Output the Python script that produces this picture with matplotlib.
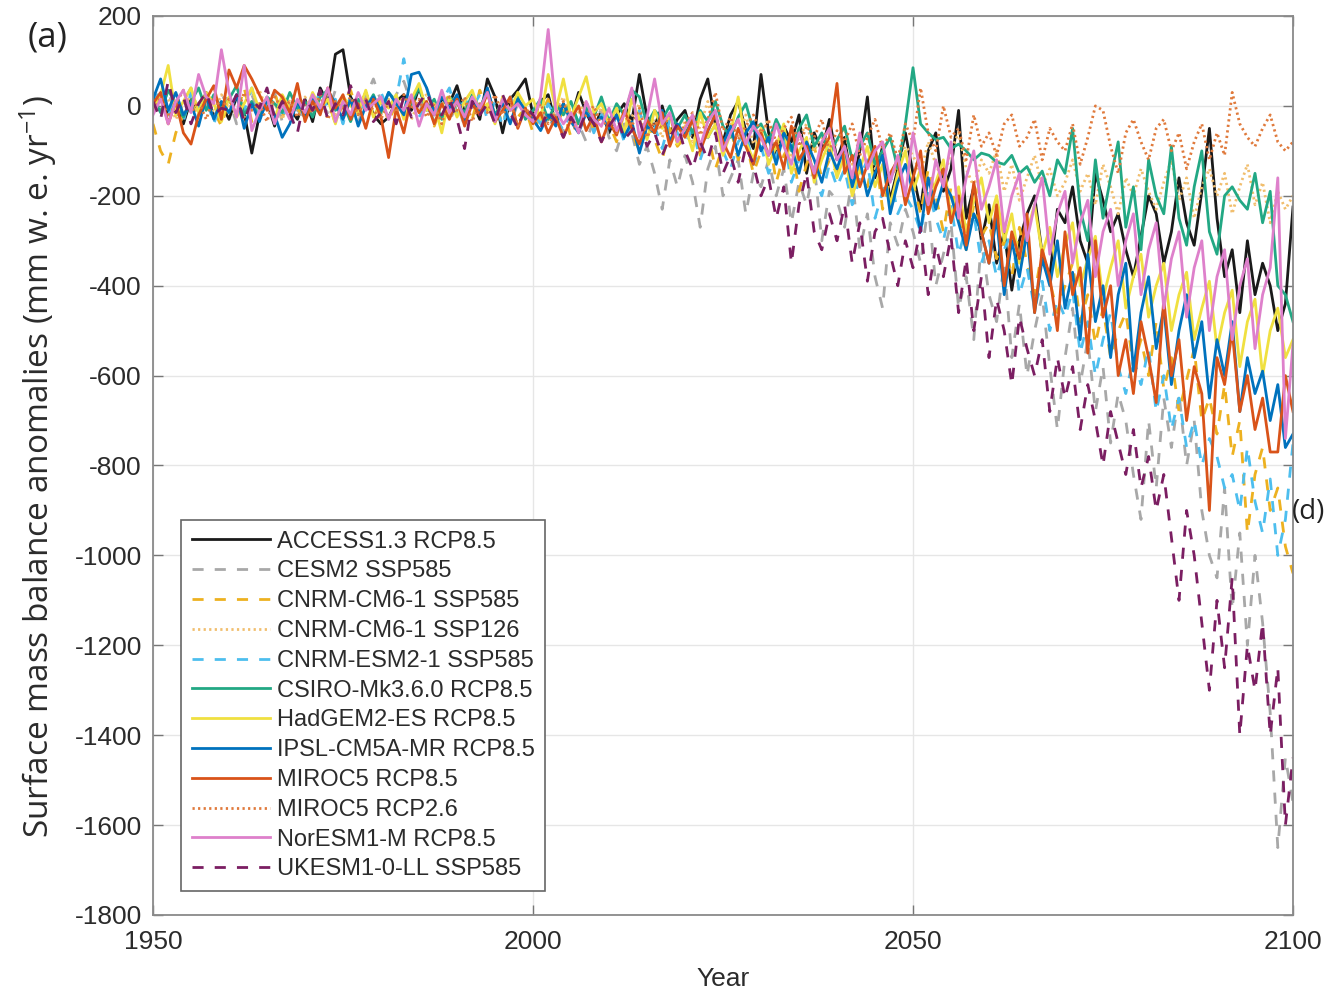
import matplotlib
matplotlib.use("Agg")
import matplotlib.pyplot as plt
import numpy as np

plt.rcParams['axes.unicode_minus'] = False
plt.rcParams['mathtext.fontset'] = 'custom'
plt.rcParams['mathtext.rm'] = 'Open Sans'
plt.rcParams['mathtext.it'] = 'Open Sans'

years = np.arange(1950, 2101)

access13 = [
    10, 25, -20, 5, -40, 15, -10, 30, -25, 5,
    -30, 20, -15, -105, -20, 10, -45, 20, -5, -30,
    15, -35, 40, 5, 115, 125, 20, -10, 30, -20,
    -40, -25, 10, 25, -10, 40, -5, -20, 15, 5,
    45, -15, 10, -30, 60, 20, -60, 15, 35, 60,
    -20, 10, 25, -40, 5, -30, 30, -15, -50, -10,
    -60, -20, 5, -35, 70, -25, -45, 0, -60, -30,
    -10, -70, 15, 60, -40, -80, -20, 10, -55, -95,
    70, -60, -110, -45, -80, -20, -150, -60, -100, -30,
    -120, -70, -180, -100, 20, -160, -90, -210, -140, -60,
    -150, -230, -100, -60, -190, -140, -10, -250, -180, -300,
    -220, -350, -280, -410, -300, -240, -200, -330, -380, -230,
    -260, -180, -300, -350, -150, -210, -280, -240, -320, -380,
    -290, -200, -240, -350, -280, -160, -260, -310, -190, -50,
    -250, -380, -320, -460, -300, -420, -350, -400, -500, -440,
    -225]

cesm2 = [
    20, -10, 35, -25, 10, 40, -15, 5, -30, 20,
    15, -40, 10, 25, -20, 5, 30, -35, 10, -10,
    -25, 20, 5, -15, 35, -5, 15, -40, 20, 60,
    10, -30, 25, 55, 5, -20, 40, -10, 15, -35,
    5, -45, 20, -10, 30, -25, 10, -40, 5, -20,
    -30, 10, -50, -20, -60, 5, -40, -80, -30, -10,
    -70, -100, -40, -60, -130, -90, -150, -230, -120, -180,
    -110, -170, -270, -140, -90, -200, -160, -120, -240, -150,
    -180, -120, -200, -140, -260, -170, -220, -130, -300, -190,
    -210, -270, -160, -320, -240, -380, -450, -260, -310, -230,
    -280, -350, -220, -400, -330, -260, -450, -380, -520, -300,
    -420, -480, -350, -560, -440, -600, -500, -420, -580, -720,
    -560, -450, -620, -520, -680, -580, -750, -640, -700, -820,
    -920, -700, -850, -650, -760, -640, -800, -700, -900, -1000,
    -1050, -850, -1120, -950, -1200, -1000, -1150, -1350, -1650, -1450,
    -1550]

cnrm_cm6_585 = [
    -40, -100, -130, -60, -20, 10, -30, 25, -10, -45,
    15, -20, 40, -35, 5, -15, 30, -25, 10, -5,
    -30, 25, -10, 15, -40, 5, 35, -20, 10, -15,
    20, -35, 5, -10, 30, -20, 15, -45, 0, 25,
    -15, 10, -30, 35, -10, 5, -40, 20, -25, -5,
    -60, -20, 15, -45, -10, -70, -30, 0, -55, -25,
    -40, -80, -15, -60, -100, -35, -75, -120, -50, -90,
    -70, -30, -110, -60, -140, -90, -50, -120, -80, -150,
    -100, -60, -170, -110, -80, -190, -130, -90, -160, -120,
    -150, -110, -200, -140, -180, -100, -230, -160, -130, -210,
    -170, -240, -140, -200, -280, -180, -250, -320, -220, -290,
    -260, -340, -300, -380, -270, -350, -420, -320, -390, -460,
    -400, -350, -480, -420, -530, -450, -560, -500, -460, -580,
    -520, -600, -480, -630, -560, -680, -610, -540, -700, -650,
    -730, -620, -780, -700, -950, -820, -760, -900, -850, -980,
    -1040]

cnrm_cm6_126 = [
    30, -10, 15, -30, 5, 20, -20, 10, -15, 25,
    -5, 20, -25, 10, 35, -10, 5, -30, 15, -5,
    20, -15, 5, 30, -20, 10, -35, 15, 0, -10,
    -20, 15, -5, 20, -30, 10, 25, -15, 5, -25,
    10, -20, 15, -5, 25, -35, 5, -10, 20, -15,
    -20, 5, -35, -10, 20, -40, -15, 10, -30, -5,
    -45, -15, -60, -25, 5, -50, -30, -70, -20, -55,
    -35, -80, -45, 10, -60, -90, -40, -70, -20, -85,
    -60, -30, -95, -50, -110, -70, -40, -100, -65, -120,
    -80, -50, -130, -90, -60, -140, -100, -70, -120, -90,
    -110, -150, -80, -130, -170, -100, -60, -140, -180, -120,
    -150, -100, -190, -130, -210, -160, -110, -180, -140, -200,
    -170, -120, -190, -150, -220, -130, -180, -240, -160, -200,
    -140, -190, -230, -170, -120, -210, -160, -250, -180, -140,
    -200, -150, -240, -180, -130, -220, -170, -260, -190, -230,
    -200]

cnrm_esm2 = [
    5, 40, -20, 15, -35, 30, -5, 20, -40, 10,
    -15, 25, -10, 40, -25, 5, 15, -30, 20, -5,
    10, -20, 35, -5, 15, -40, 25, 5, -15, 20,
    30, -10, 15, 105, 20, -25, 5, -35, 10, 40,
    -20, 15, -5, 25, -30, 10, -45, 20, -10, -25,
    -15, -40, 5, -25, -55, -10, -35, 0, -60, -20,
    -50, -25, -80, -40, -10, -70, -45, -95, -30, -60,
    -85, -50, -120, -70, -40, -100, -140, -80, -60, -130,
    -90, -150, -110, -70, -170, -120, -90, -160, -200, -130,
    -180, -140, -220, -160, -120, -250, -190, -150, -240, -200,
    -230, -280, -190, -250, -300, -220, -330, -270, -240, -350,
    -300, -380, -320, -280, -420, -360, -450, -390, -500, -430,
    -470, -410, -550, -480, -600, -520, -460, -580, -640, -560,
    -620, -540, -680, -600, -720, -650, -760, -700, -800, -740,
    -780, -850, -820, -900, -760, -880, -950, -830, -1000, -920,
    -750]

csiro = [
    20, -15, 35, 5, -25, 10, 40, -10, 25, -5,
    15, 45, -20, 10, -30, 20, 5, -15, 30, -5,
    10, -25, 20, 35, -10, 5, -35, 15, -5, 25,
    -15, 30, 10, -20, 5, 40, -10, 15, -30, 20,
    5, -15, 25, -5, 35, -20, 10, -10, 20, -30,
    -10, 15, -30, 5, -20, 10, -40, -5, -25, 20,
    -35, 5, -20, 35, 20, -40, -10, -30, 0, -50,
    -20, -60, -10, -35, 10, -45, -70, -25, 5, -55,
    -40, -80, -30, -65, -100, -50, -20, -90, -60, -110,
    -75, -45, -120, -90, -60, -130, -100, -70, -140, -40,
    85, -40, -60, -75, -70, -95, -85, -100, -120, -105,
    -110, -125, -130, -110, -150, -135, -170, -145, -200, -120,
    -150, -50, -230, -300, -120, -250, -160, -80, -270, -180,
    -320, -120, -200, -240, -90, -250, -310, -180, -100, -280,
    -330, -200, -180, -210, -230, -150, -260, -190, -400, -420,
    -480]

hadgem2 = [
    -10, 25, 90, -20, 10, 40, -15, 30, 5, -35,
    20, -25, 5, 40, -10, 15, -30, 25, -5, 10,
    -20, 30, -5, 15, -40, 20, 0, -15, 35, -25,
    10, -5, 25, -30, 15, 50, -10, 5, -60, 20,
    -25, 10, 35, -15, 5, -40, 20, -10, 30, 0,
    15, -30, 70, -10, 60, -25, 20, 65, -15, 5,
    -40, -5, -60, 15, -30, -75, -10, -50, -20, -85,
    -45, -100, -15, -70, -40, -110, -60, 20, -80, -120,
    -50, -130, -90, -40, -150, -100, -70, -170, -120, -80,
    -160, -110, -200, -140, -90, -180, -130, -220, -150, -100,
    -190, -140, -230, -170, -120, -250, -180, -280, -210, -160,
    -260, -200, -300, -240, -350, -280, -220, -330, -270, -380,
    -310, -260, -400, -340, -290, -430, -360, -300, -450, -380,
    -330, -470, -400, -350, -500, -420, -370, -520, -450, -390,
    -540, -460, -410, -580, -480, -430, -600, -500, -450, -560,
    -520]

ipsl = [
    15, 60, -10, 30, -20, 5, -45, 20, -30, 10,
    -15, 25, -50, 5, -35, 15, -20, -70, -40, 10,
    -25, 20, -10, 35, 5, -30, 15, -45, 0, 20,
    -10, 30, 5, -20, 70, 75, 40, -15, 20, -5,
    25, -35, 10, -15, 40, -25, 5, -40, 15, -10,
    -30, -55, -20, -45, 5, -35, -60, -15, -40, -25,
    -50, -20, -70, -35, -105, -45, -60, -10, -80, -40,
    -65, -30, -90, -55, -20, -85, -45, -110, -60, -35,
    -100, -70, -130, -60, -90, -150, -80, -120, -170, -100,
    -140, -90, -180, -120, -200, -150, -110, -240, -170, -130,
    -190, -280, -160, -230, -170, -200, -260, -320, -240, -280,
    -350, -250, -420, -300, -380, -280, -460, -340, -400, -300,
    -450, -370, -520, -330, -480, -400, -560, -420, -350, -590,
    -460, -380, -540, -450, -620, -500, -420, -560, -480, -650,
    -520, -600, -480, -680, -560, -640, -590, -700, -620, -760,
    -730]

miroc5_85 = [
    5, 30, -40, 10, -60, -85, -20, 15, 45, -30,
    80, 40, 90, 60, 25, -10, 35, 20, -15, 50,
    -35, 10, -20, 40, -5, 25, -30, 5, -50, 15,
    -25, -115, -5, -60, 20, -15, 10, -40, 5, -30,
    15, -45, 5, -20, 30, -35, -10, 20, -50, -5,
    -40, -15, -60, -25, -70, -30, 0, -55, -20, -80,
    -35, -65, -10, -50, -85, -30, -60, -15, -90, -45,
    -70, -30, -100, -55, -20, -80, -115, -50, -90, -130,
    -60, -110, -80, -140, -45, -120, -90, -160, -100, -70,
    50, -150, -110, -180, -130, -90, -200, -150, -120, -220,
    -160, -100, -240, -180, -140, -260, -200, -310, -170, -280,
    -350, -220, -400, -280, -340, -240, -460, -320, -380, -500,
    -280, -420, -360, -550, -300, -470, -400, -600, -520, -640,
    -480, -560, -660, -430, -600, -520, -700, -580, -640, -900,
    -560, -620, -500, -680, -600, -720, -650, -770, -770, -600,
    -680]

miroc5_26 = [
    -10, 20, -25, 5, 35, -15, 10, -30, 20, -5,
    15, -20, 30, -10, 5, -35, 20, -5, 10, -25,
    5, -15, 25, -30, 10, -5, 20, -20, 15, -10,
    -30, 10, -15, 25, -5, 15, -25, 5, -40, 20,
    -10, 20, -35, 5, -15, 25, -20, 10, -45, -5,
    -25, 5, -40, -15, 10, -35, -55, -20, 0, -45,
    -30, -60, -15, -45, -5, -70, -35, -50, -20, -80,
    -40, -15, -65, -30, 30, -55, -25, -75, -45, -20,
    -60, -35, -80, -50, -25, -90, -45, -70, -30, -100,
    -55, -80, -40, -110, -70, -30, -95, -60, -120, -40,
    -80, 40, -60, -100, 0, -70, -50, -120, -20, -90,
    -60, -110, -40, -20, -90, -70, -30, -120, -50, -80,
    -100, -40, -130, -70, 0, -10, -90, -150, -60, -30,
    -80, -120, -50, -30, -100, -60, -140, -80, -40, -120,
    -60, -110, 30, -40, -70, -90, -50, -20, -80, -100,
    -80]

noresm1 = [
    -20, 15, -40, 10, 35, -15, 70, 20, 5, 125,
    30, -25, 90, -55, -10, 20, -40, 5, -30, 15,
    -15, 25, -5, 40, -35, 10, -20, 30, -10, 5,
    20, -30, 15, -10, 25, -45, 5, -20, 35, -15,
    10, -25, 20, -5, 30, -35, 15, -10, 5, -20,
    -35, 20, 170, -10, -40, -15, -60, 10, -30, -45,
    -5, -55, -20, 40, -70, -25, 60, -40, -15, -80,
    -50, -20, -90, -35, -10, -100, -60, -30, -85, -45,
    -70, -110, -40, -90, -130, -60, -100, -150, -80, -50,
    -120, -90, -160, -60, -140, -100, -80, -170, -110, -200,
    -60, -150, -220, -120, -180, -80, -250, -160, -100, -230,
    -180, -120, -280, -200, -150, -300, -220, -160, -330, -240,
    -190, -350, -260, -210, -380, -280, -230, -400, -300, -240,
    -420, -320, -260, -450, -340, -280, -470, -360, -300, -500,
    -380, -320, -520, -400, -340, -540, -420, -360, -160, -740,
    -530]

ukesm1 = [
    10, -30, 55, -15, 20, -40, 5, 30, -20, -5,
    -10, 25, -35, 15, -5, 40, -25, 10, -15, -60,
    20, -10, 35, -30, 5, -20, 45, -5, 15, -35,
    -15, 10, -40, 20, -25, 5, 30, -10, -20, 15,
    -30, -95, 10, -20, 5, -40, 25, -15, -50, 0,
    -20, -50, -10, -35, -70, -25, -55, -15, -40, -80,
    -45, -20, -75, -55, -30, -90, -60, -110, -70, -40,
    -100, -140, -80, -120, -60, -150, -110, -170, -90, -130,
    -200, -160, -250, -180, -350, -220, -150, -280, -320, -240,
    -300, -220, -350, -260, -390, -280, -250, -330, -400, -300,
    -360, -270, -420, -310, -380, -290, -460, -340, -500, -380,
    -560, -430, -500, -620, -470, -540, -600, -520, -680, -560,
    -650, -580, -720, -620, -700, -800, -680, -750, -820, -720,
    -850, -780, -900, -820, -960, -1100, -900, -1000, -1150, -1300,
    -1100, -1250, -1050, -1400, -1200, -1300, -1150, -1400, -1250, -1600,
    -1450]

labels = [
    "ACCESS1.3 RCP8.5", "CESM2 SSP585", "CNRM-CM6-1 SSP585",
    "CNRM-CM6-1 SSP126", "CNRM-ESM2-1 SSP585", "CSIRO-Mk3.6.0 RCP8.5",
    "HadGEM2-ES RCP8.5", "IPSL-CM5A-MR RCP8.5", "MIROC5 RCP8.5",
    "MIROC5 RCP2.6", "NorESM1-M RCP8.5", "UKESM1-0-LL SSP585",
]
series = [access13, cesm2, cnrm_cm6_585, cnrm_cm6_126, cnrm_esm2, csiro,
          hadgem2, ipsl, miroc5_85, miroc5_26, noresm1, ukesm1]

dash = (0, (4, 4))
dot = (0, (0.8, 1.2))
styles = [
    ("#1a1a1a", "-"), ("#a8a8a8", dash), ("#EDB120", dash),
    ("#F1BE6E", dot), ("#4DBEEE", dash), ("#22A884", "-"),
    ("#F0E040", "-"), ("#0072BD", "-"), ("#D95319", "-"),
    ("#E07A3C", dot), ("#DE80CB", "-"), ("#7B1E62", dash),
]

W, H = 1327, 991
fig = plt.figure(figsize=(W / 100, H / 100), dpi=100)
ax = fig.add_axes([153 / W, 1 - 915 / H, (1293 - 153) / W, (915 - 16) / H])

for vals, lab, (col, ls) in zip(series, labels, styles):
    ax.plot(years, vals, color=col, linestyle=ls, linewidth=2.0, label=lab)

ax.set_xlim(1950, 2100)
ax.set_ylim(-1800, 200)
ax.set_xticks([1950, 2000, 2050, 2100])
ax.set_yticks(np.arange(-1800, 201, 200))
ax.grid(True, color="#e6e6e6", linewidth=1.0)
ax.set_axisbelow(True)

tick_font = dict(family="Liberation Sans", size=19)
for lab in ax.get_xticklabels() + ax.get_yticklabels():
    lab.set_fontfamily("Liberation Sans")
    lab.set_fontsize(19)
    lab.set_color("#2b2b2b")
ax.tick_params(direction="in", top=True, right=True, length=7, width=1,
               color="#777777")
ax.tick_params(axis="y", pad=8)
ax.tick_params(axis="x", pad=11)
for sp in ax.spines.values():
    sp.set_color("#8a8a8a")
    sp.set_linewidth(1.3)

ax.set_xlabel("Year", fontdict=tick_font, color="#2b2b2b", labelpad=9)
fig.text(38 / W, 1 - 467 / H,
         r"Surface mass balance anomalies (mm w. e. yr$^{-1}$)",
         rotation=90, ha="center", va="center", family="Open Sans",
         fontsize=24, color="#2b2b2b")
fig.text(28 / W, 1 - 37 / H, "(a)", ha="left", va="center",
         family="Open Sans", fontsize=25, color="#222222")
# panel letter of the neighbouring panel, kept inside the canvas
fig.text(1325 / W, 1 - 512 / H, "(d)", ha="right", va="center",
         family="Open Sans", fontsize=20, color="#222222")

leg = ax.legend(loc="lower left", bbox_to_anchor=((181 - 153) / 1140, (915 - 891) / 899),
                borderaxespad=0, fancybox=False, framealpha=1,
                prop=dict(family="Liberation Sans", size=17),
                handlelength=3.3, handletextpad=0.3, labelspacing=0.33,
                borderpad=0.45)
leg.get_frame().set_edgecolor("#666666")
leg.get_frame().set_linewidth(1.2)
for t in leg.get_texts():
    t.set_color("#2b2b2b")

fig.savefig("out.png", dpi=100)
